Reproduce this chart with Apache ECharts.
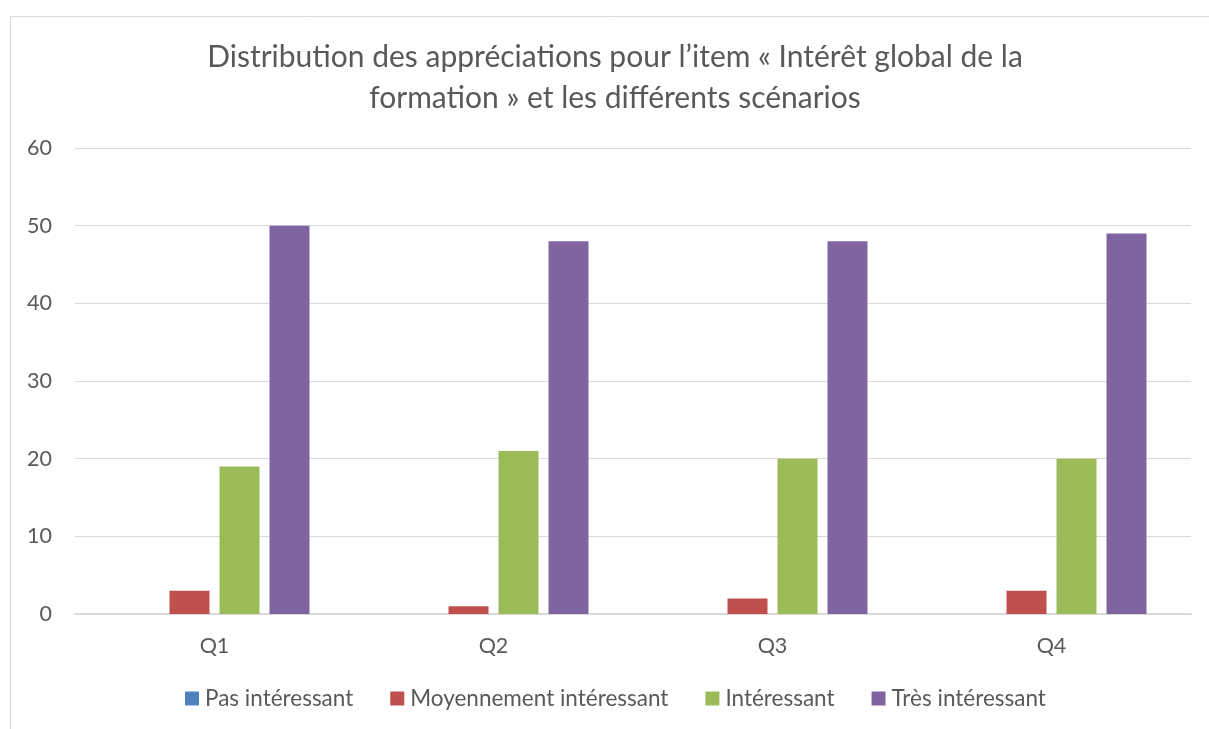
<!DOCTYPE html>
<html>
<head>
<meta charset="utf-8">
<script src="https://cdn.jsdelivr.net/npm/echarts@6/dist/echarts.min.js"></script>
<style>
  html, body { margin: 0; padding: 0; background: #fff; }
  #chart { width: 1209px; height: 729px; }
</style>
</head>
<body>
<div id="chart"></div>
<script>
const categories = ['Q1', 'Q2', 'Q3', 'Q4'];
const pasInteressant = [0, 0, 0, 0];
const moyennement = [3, 1, 2, 3];
const interessant = [19, 21, 20, 20];
const tresInteressant = [50, 48, 48, 49];
const yTicks = [0, 10, 20, 30, 40, 50, 60];

const FONT = 'Lato';
const TEXT = '#595959';

const chart = echarts.init(document.getElementById('chart'));

function bar(name, data, color) {
    return {
        name: name,
        type: 'bar',
        data: data,
        barWidth: 40,
        barGap: '25%',
        itemStyle: { color: color }
    };
}

chart.setOption({
    animation: false,
    textStyle: { fontFamily: FONT, color: TEXT },
    graphic: [
        {
            type: 'rect',
            shape: { x: 10.5, y: 16.5, width: 1300, height: 800 },
            style: { fill: null, stroke: '#D9D9D9', lineWidth: 1 },
            silent: true
        }
    ],
    title: {
        text: 'Distribution des appréciations pour l’item « Intérêt global de la\nformation » et les différents scénarios',
        left: 615,
        top: 37,
        padding: 0,
        textAlign: 'center',
        textStyle: {
            fontFamily: FONT,
            fontSize: 30,
            fontWeight: 'normal',
            color: TEXT,
            lineHeight: 41
        }
    },
    legend: {
        top: 687,
        left: 185,
        itemWidth: 14,
        itemHeight: 14,
        itemGap: 37,
        padding: 0,
        icon: 'rect',
        textStyle: { fontFamily: FONT, fontSize: 22.5, color: TEXT, padding: [0, 0, 0, 1] },
        data: ['Pas intéressant', 'Moyennement intéressant', 'Intéressant', 'Très intéressant']
    },
    grid: {
        left: 75,
        right: 18,
        top: 148,
        bottom: 115
    },
    xAxis: {
        type: 'category',
        data: categories,
        axisLine: { lineStyle: { color: '#D9D9D9', width: 2 } },
        axisTick: { show: false },
        axisLabel: { fontFamily: FONT, fontSize: 21.5, color: TEXT, margin: 21 }
    },
    yAxis: {
        type: 'value',
        min: yTicks[0],
        max: yTicks[yTicks.length - 1],
        interval: 10,
        axisLine: { show: false },
        axisTick: { show: false },
        axisLabel: { fontFamily: FONT, fontSize: 21.5, color: TEXT, margin: 23 },
        splitLine: { lineStyle: { color: '#D9D9D9', width: 1 } }
    },
    series: [
        bar('Pas intéressant', pasInteressant, '#4F81BD'),
        bar('Moyennement intéressant', moyennement, '#C0504D'),
        bar('Intéressant', interessant, '#9BBB59'),
        bar('Très intéressant', tresInteressant, '#8064A2')
    ]
});
</script>
</body>
</html>
